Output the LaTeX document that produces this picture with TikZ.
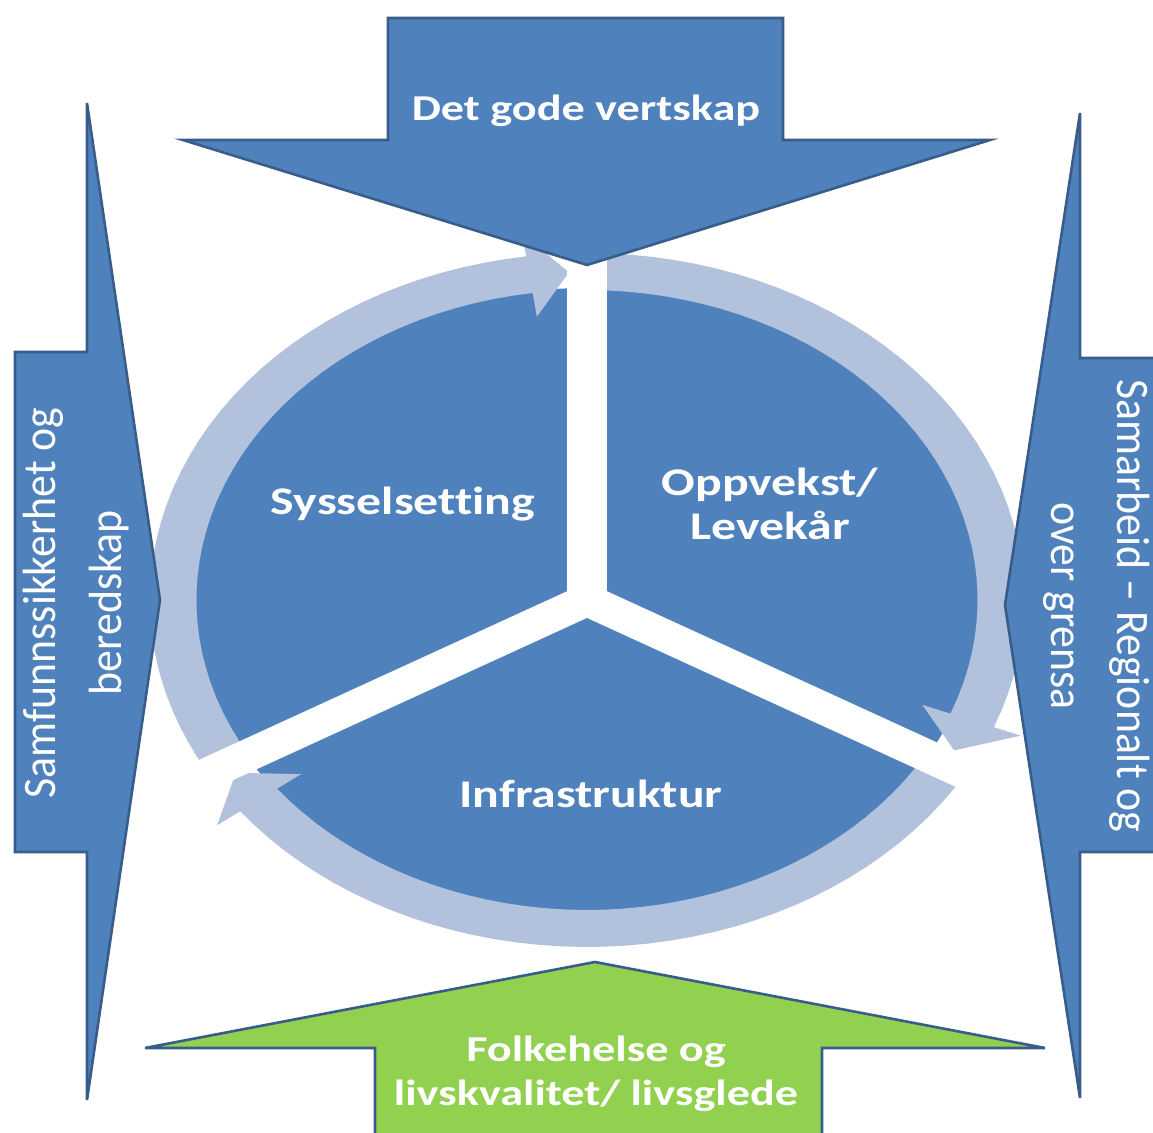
\documentclass[tikz,border=0pt]{standalone}
\usepackage{fontspec}
\setmainfont{Carlito}
\newfontfamily\widefont{Carlito}[FakeStretch=1.27,Ligatures=NoCommon]
\newfontfamily\tallfont{Carlito}[FakeStretch=0.94,Ligatures=NoCommon]
\definecolor{accent}{HTML}{4F81BD}
\definecolor{accentdark}{HTML}{385D8A}
\definecolor{ringblue}{HTML}{B3C2DC}
\definecolor{leafgreen}{HTML}{92D050}
\tikzset{
  big arrow/.style={fill=accent,draw=accentdark,line width=1.3pt,line join=miter},
  ring arrow/.style={fill=ringblue},
  main text/.style={text=white,align=center,inner sep=0pt,
    font=\widefont\bfseries\fontsize{18.2}{22}\selectfont},
  disc text/.style={main text,font=\widefont\bfseries\fontsize{19.6}{22}\selectfont},
  side text/.style={text=white,align=center,inner sep=0pt,
    font=\tallfont\fontsize{23.3}{33}\selectfont}
}
% tail angle, back of head, tip
\newcommand{\ringarrow}[3]{%
  \fill[ring arrow] plot[domain=#1:#2,samples=40] (\x:347) -- (#2:370) -- (#3:328)
    -- (#2:286) -- plot[domain=#2:#1,samples=40] (\x:310) -- cycle;}
\newcommand{\gapband}[1]{%
  \fill[white] (#1+90:15.5) -- ++(#1:400) -- ++(#1-90:31) -- ++(#1+180:400) -- cycle;}
\begin{document}
\begin{tikzpicture}[x=0.5pt,y=-0.5pt]
\useasboundingbox (0,0) rectangle (1153,1133);
\clip (0,0) rectangle (1153,1133);

% the wheel
\begin{scope}[shift={(587,600)},xscale=1.26]
  \fill[accent] (0,0) circle (312);
  \ringarrow{150}{262}{267.5}
  \ringarrow{270}{381.5}{387.3}
  \ringarrow{30}{142.5}{148.2}
  \gapband{270}
  \gapband{150}
  \gapband{30}
  \fill[white] (0,0) circle (18);
\end{scope}

% the four arrows round it
\draw[big arrow] (15,352) -- (87,352) -- (87,103) -- (160,600) -- (87,1100)
  -- (87,852) -- (15,852) -- cycle;
\draw[big arrow] (1165,358) -- (1080,358) -- (1080,113) -- (1005,605) -- (1080,1098)
  -- (1080,852) -- (1165,852);
\draw[big arrow] (388,18) -- (783,18) -- (783,140) -- (990,140) -- (587,265)
  -- (183,140) -- (388,140) -- cycle;
\draw[big arrow,fill=leafgreen] (375,1145) -- (375,1048) -- (145,1048) -- (595,962)
  -- (1045,1048) -- (822,1048) -- (822,1145);

\node[main text] (vertskap) at (586,111) {Det gode vertskap};
\node[disc text] (syssel) at (403,504) {Sysselsetting};
\node[disc text] (oppvekst) at (770,504) {Oppvekst/\\Levekår};
\node[disc text] (infra) at (591,794) {Infrastruktur};
\node[main text] (folkehelse) at (596,1074) {Folkehelse og\\livskvalitet/ livsglede};
\node[side text,rotate=90] (samfunn) at (76,603) {Samfunnssikkerhet og\\beredskap};
\node[side text,rotate=-90] (samarbeid) at (1097,606) {Samarbeid – Regionalt og\\over grensa};
\end{tikzpicture}
\end{document}
